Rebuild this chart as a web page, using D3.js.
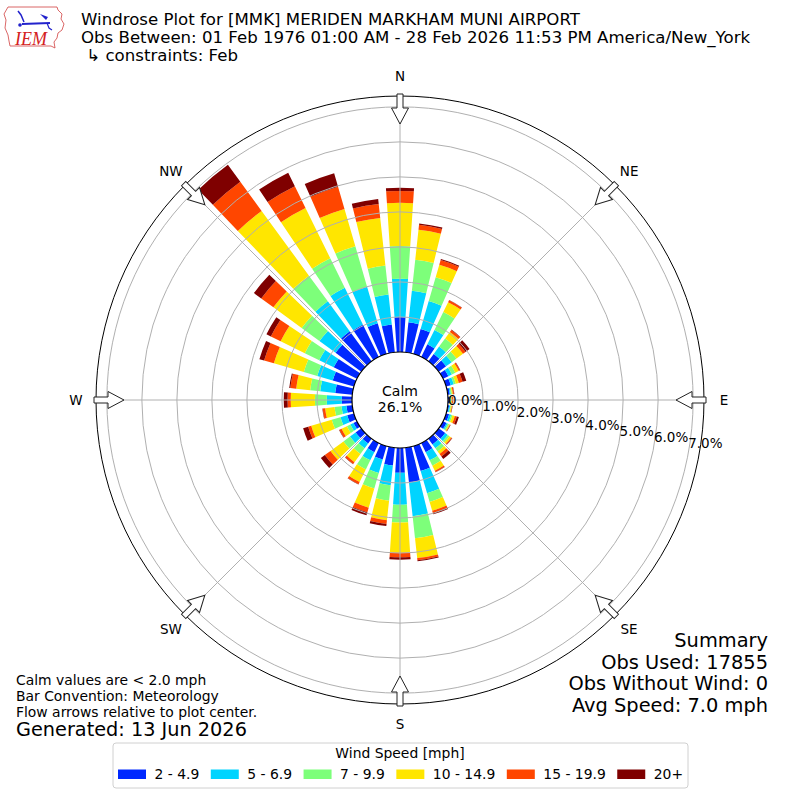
<!DOCTYPE html>
<html>
<head>
<meta charset="utf-8">
<script src="https://cdn.jsdelivr.net/npm/d3@7"></script>
<style>
  body { margin: 0; background: #fff; }
  text { font-family: "DejaVu Sans", sans-serif; }
</style>
</head>
<body>
<svg id="rose" width="800" height="800"></svg>
<script>
// directions in degrees (meteorological), one bar per 10 deg
const directions = d3.range(0, 360, 10);
const speedBins = ["2 - 4.9", "5 - 6.9", "7 - 9.9", "10 - 14.9", "15 - 19.9", "20+"];
const binColors = ["#0028ff", "#00d4ff", "#7dff7a", "#ffe600", "#ff4600", "#7f0000"];

// percent of observations per direction for each speed bin
const bin2to5 = [1.00, 0.86, 0.74, 0.40, 0.26, 0.26, 0.17, 0.14, 0.06, 0.04, 0.04, 0.09,
                 0.11, 0.23, 0.20, 0.29, 0.74, 1.00, 0.71, 0.51, 0.40, 0.29, 0.17, 0.20,
                 0.11, 0.20, 0.17, 0.29, 0.49, 0.63, 0.74, 0.91, 1.06, 1.03, 0.91, 0.80];
const bin5to7 = [1.09, 0.91, 0.83, 0.46, 0.26, 0.20, 0.11, 0.09, 0.03, 0.02, 0.03, 0.06,
                 0.04, 0.09, 0.14, 0.26, 0.66, 0.97, 0.91, 0.57, 0.40, 0.26, 0.17, 0.20,
                 0.10, 0.20, 0.14, 0.43, 0.43, 0.46, 0.46, 0.57, 1.06, 1.17, 1.09, 0.86];
const bin7to10 = [0.94, 0.89, 0.71, 0.57, 0.29, 0.17, 0.11, 0.06, 0.03, 0.02, 0.02, 0.04,
                  0.04, 0.06, 0.11, 0.17, 0.26, 0.63, 0.51, 0.44, 0.46, 0.29, 0.20, 0.23,
                  0.11, 0.26, 0.20, 0.34, 0.29, 0.40, 0.46, 0.63, 0.91, 0.94, 1.20, 0.83];
const bin10to15 = [1.23, 0.86, 0.37, 0.31, 0.23, 0.23, 0.11, 0.09, 0.03, 0.03, 0.03, 0.07,
                   0.03, 0.06, 0.09, 0.16, 0.26, 0.57, 0.86, 0.56, 0.57, 0.40, 0.29, 0.46,
                   0.17, 0.61, 0.27, 0.69, 0.40, 0.89, 0.77, 1.00, 2.29, 1.60, 1.11, 1.37];
const bin15to20 = [0.34, 0.14, 0.14, 0.06, 0.07, 0.09, 0.04, 0.11, 0.03, 0.03, 0.01, 0.06,
                   0.01, 0.03, 0.09, 0.04, 0.07, 0.06, 0.13, 0.11, 0.14, 0.07, 0.06, 0.20,
                   0.07, 0.09, 0.07, 0.09, 0.17, 0.29, 0.31, 0.43, 1.03, 0.69, 0.66, 0.40];
const bin20plus = [0.09, 0.04, 0.03, 0.01, 0.01, 0.14, 0.01, 0.11, 0.01, 0.01, 0.01, 0.06,
                   0.01, 0.01, 0.09, 0.01, 0.04, 0.03, 0.07, 0.06, 0.09, 0.01, 0.01, 0.14,
                   0.01, 0.15, 0.01, 0.11, 0.03, 0.14, 0.14, 0.26, 0.60, 0.43, 0.40, 0.14];

const ringTicks = [0, 1, 2, 3, 4, 5, 6, 7];
const compass = ["N", "NE", "E", "SE", "S", "SW", "W", "NW"];
const calmPct = "26.1%";

const titleLines = [
  "Windrose Plot for [MMK] MERIDEN MARKHAM MUNI AIRPORT",
  "Obs Between: 01 Feb 1976 01:00 AM - 28 Feb 2026 11:53 PM America/New_York",
  " \u21B3 constraints: Feb"
];
const noteLines = ["Calm values are < 2.0 mph", "Bar Convention: Meteorology",
                   "Flow arrows relative to plot center."];
const generated = "Generated: 13 Jun 2026";
const summaryLines = ["Summary", "Obs Used: 17855", "Obs Without Wind: 0", "Avg Speed: 7.0 mph"];

const svg = d3.select("#rose"),
    cx = 400, cy = 400,
    calmR = 48, outerR = 304;

const bins = [bin2to5, bin5to7, bin7to10, bin10to15, bin15to20, bin20plus];
let rows = directions.map((d, i) => {
  let obj = {dir: d};
  bins.forEach((b, k) => { obj["b" + k] = b[i]; });
  return obj;
});
let stack = d3.stack().keys(bins.map((b, k) => "b" + k))(rows);

let r = d3.scaleLinear().domain([0, 7.31]).range([calmR, outerR]);
let rad = d => d * Math.PI / 180;

let g = svg.append("g").attr("transform", "translate(" + cx + "," + cy + ")");

// bars
let arc = d3.arc();
let halfW = 3.8;
stack.forEach((layer, k) => {
  g.append("g").selectAll("path")
    .data(layer)
    .enter().append("path")
    .attr("d", d => arc({
      innerRadius: r(d[0]), outerRadius: r(d[1]),
      startAngle: rad(d.data.dir - halfW), endAngle: rad(d.data.dir + halfW)
    }))
    .attr("fill", binColors[k]);
});

// grid on top of bars
g.append("g").selectAll("circle")
  .data(ringTicks.slice(1))
  .enter().append("circle")
  .attr("r", d => r(d))
  .attr("fill", "none")
  .attr("stroke", "#b0b0b0")
  .attr("stroke-width", 1);

g.append("g").selectAll("line")
  .data(d3.range(0, 360, 45))
  .enter().append("line")
  .attr("x1", d => calmR * Math.sin(rad(d)))
  .attr("y1", d => -calmR * Math.cos(rad(d)))
  .attr("x2", d => outerR * Math.sin(rad(d)))
  .attr("y2", d => -outerR * Math.cos(rad(d)))
  .attr("stroke", "#b0b0b0")
  .attr("stroke-width", 1);

g.append("circle")
  .attr("r", outerR)
  .attr("fill", "none")
  .attr("stroke", "#000")
  .attr("stroke-width", 1);

// calm circle
g.append("circle")
  .attr("r", calmR)
  .attr("fill", "#fff")
  .attr("stroke", "#000")
  .attr("stroke-width", 1.2);

g.append("text")
  .attr("text-anchor", "middle")
  .attr("y", -4)
  .style("font-size", "14px")
  .text("Calm");
g.append("text")
  .attr("text-anchor", "middle")
  .attr("y", 11.5)
  .style("font-size", "14px")
  .text(calmPct);

// ring labels, drifting slightly below the east axis
g.append("g").selectAll("text")
  .data(ringTicks)
  .enter().append("text")
  .attr("x", d => r(d) - d * 0.7)
  .attr("y", (d, i) => 6.2 * i)
  .attr("dy", "0.35em")
  .style("font-size", "13.5px")
  .text(d => d.toFixed(1) + "%");

// flow arrows
let arrow = "M-3,-306L3,-306L3,-292L8.5,-292L0,-276L-8.5,-292L-3,-292Z";
g.append("g").selectAll("path")
  .data(d3.range(0, 360, 45))
  .enter().append("path")
  .attr("d", arrow)
  .attr("transform", d => "rotate(" + d + ")")
  .attr("fill", "#fff")
  .attr("stroke", "#222")
  .attr("stroke-width", 1);

// compass labels
g.append("g").selectAll("text")
  .data(compass)
  .enter().append("text")
  .attr("x", (d, i) => 324 * Math.sin(rad(i * 45)))
  .attr("y", (d, i) => -324 * Math.cos(rad(i * 45)))
  .attr("dy", "0.35em")
  .attr("text-anchor", "middle")
  .style("font-size", "13.5px")
  .text(d => d);

// titles
svg.append("g").selectAll("text")
  .data(titleLines)
  .enter().append("text")
  .attr("x", 81)
  .attr("y", (d, i) => 25 + i * 18)
  .attr("xml:space", "preserve")
  .style("font-size", "16.6px")
  .style("white-space", "pre")
  .text(d => d);

// notes bottom left
svg.append("g").selectAll("text")
  .data(noteLines)
  .enter().append("text")
  .attr("x", 16)
  .attr("y", (d, i) => 685 + i * 15.8)
  .style("font-size", "13.9px")
  .text(d => d);
svg.append("text")
  .attr("x", 16)
  .attr("y", 736)
  .style("font-size", "19.3px")
  .text(generated);

// summary bottom right
svg.append("g").selectAll("text")
  .data(summaryLines)
  .enter().append("text")
  .attr("x", 768)
  .attr("y", (d, i) => 647 + i * 21.7)
  .attr("text-anchor", "end")
  .style("font-size", "19.4px")
  .text(d => d);

// legend
let lg = svg.append("g");
lg.append("rect")
  .attr("x", 113).attr("y", 743)
  .attr("width", 575).attr("height", 45)
  .attr("rx", 3)
  .attr("fill", "#fff")
  .attr("stroke", "#d0d0d0");
lg.append("text")
  .attr("x", 400).attr("y", 758)
  .attr("text-anchor", "middle")
  .style("font-size", "13.9px")
  .text("Wind Speed [mph]");
let lx = 118;
speedBins.forEach((label, k) => {
  lg.append("rect")
    .attr("x", lx).attr("y", 769.5)
    .attr("width", 28).attr("height", 9.5)
    .attr("fill", binColors[k]);
  let t = lg.append("text")
    .attr("x", lx + 36.5).attr("y", 778.5)
    .style("font-size", "13.9px")
    .text(label);
  lx += 36.5 + t.node().getComputedTextLength() + 11.5;
});

// IEM logo
let logo = svg.append("g");
logo.append("path")
  .attr("d", "M8,7L57,7L58,10L62,14L61,19L64,24L62,30L58,33L57,38L54,42L55,48L51,46L10,46L9,41L8,35L5,28L6,20L4,14Z")
  .attr("fill", "none")
  .attr("stroke", "#d04040")
  .attr("stroke-width", 0.8);
logo.append("line").attr("x1", 22).attr("y1", 24).attr("x2", 50).attr("y2", 23)
  .attr("stroke", "#2222cc").attr("stroke-width", 2);
logo.append("path").attr("d", "M18,11L21,15L24,22")
  .attr("fill", "none").attr("stroke", "#2222cc").attr("stroke-width", 1.5);
logo.append("path").attr("d", "M40,14L48,17L46,20Z").attr("fill", "#2222cc");
logo.append("path").attr("d", "M47,23L49,28L52,30").attr("fill", "none")
  .attr("stroke", "#2222cc").attr("stroke-width", 1.2);
logo.append("circle").attr("cx", 20).attr("cy", 25).attr("r", 1.8).attr("fill", "#2222cc");
logo.append("text")
  .attr("x", 15).attr("y", 45)
  .style("font-family", "'Liberation Serif', serif")
  .style("font-style", "italic")
  .style("font-size", "18px")
  .attr("fill", "#d42020")
  .text("IEM");
</script>
</body>
</html>
